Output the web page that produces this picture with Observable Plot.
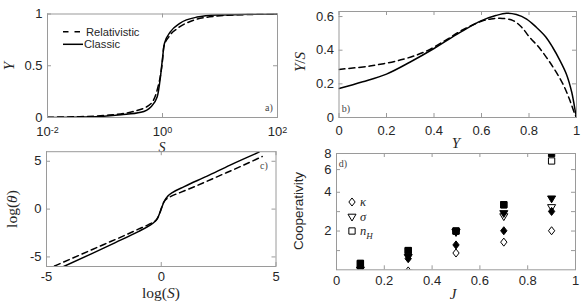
<!DOCTYPE html>
<html><head><meta charset="utf-8">
<script src="https://cdn.jsdelivr.net/npm/d3@7"></script>
<script src="https://cdn.jsdelivr.net/npm/@observablehq/plot@0.6"></script>
<style>
body{margin:0;background:#fff;}
#wrap{position:relative;width:581px;height:303px;overflow:hidden;background:#fff;}
#wrap svg{position:absolute;}
</style></head><body><div id="wrap"></div>
<script>
// ---------- Panel a: Y vs S (log axis) ----------
const aClassicS = [0.01, 0.03, 0.083, 0.19, 0.42, 0.62, 0.81, 0.92, 0.99, 1.08, 1.38, 2.0, 4.0, 8.9, 30, 100];
const aClassicY = [0.0, 0.003, 0.01, 0.026, 0.05, 0.10, 0.20, 0.39, 0.55, 0.715, 0.83, 0.91, 0.97, 0.99, 0.997, 1.0];
const aRelS = [0.01, 0.03, 0.1, 0.32, 0.62, 0.83, 0.93, 1.0, 1.05, 1.29, 1.82, 3.5, 8.9, 30, 100];
const aRelY = [0.003, 0.007, 0.02, 0.06, 0.13, 0.29, 0.42, 0.55, 0.68, 0.78, 0.86, 0.94, 0.98, 0.995, 0.999];
const aXTicks = [0.01, 1, 100];
const aXExponents = ["-2", "0", "2"];
const aYTicks = [0, 0.5, 1];

// ---------- Panel b: Y/S vs Y ----------
const bClassicY  = [0, 0.1, 0.2, 0.3, 0.4, 0.51, 0.6, 0.66, 0.705, 0.747, 0.79, 0.831, 0.87, 0.9, 0.93, 0.958, 0.98, 0.997, 1];
const bClassicYS = [0.172, 0.212, 0.258, 0.33, 0.41, 0.506, 0.576, 0.606, 0.62, 0.612, 0.585, 0.536, 0.48, 0.416, 0.34, 0.256, 0.15, 0.02, 0];
const bRelY  = [0, 0.13, 0.27, 0.37, 0.45, 0.52, 0.6, 0.64, 0.677, 0.733, 0.77, 0.803, 0.84, 0.874, 0.91, 0.944, 0.97, 0.993, 1];
const bRelYS = [0.286, 0.306, 0.346, 0.396, 0.46, 0.52, 0.572, 0.586, 0.59, 0.576, 0.535, 0.476, 0.42, 0.356, 0.28, 0.196, 0.11, 0.02, 0];
const bXTicks = [0, 0.2, 0.4, 0.6, 0.8, 1];
const bYTicks = [0, 0.2, 0.4, 0.6];

// ---------- Panel c: log(theta) vs log(S) ----------
const cClassicX = [-4.25, -3, -2, -1, -0.5, -0.3, -0.15, -0.05, 0.05, 0.15, 0.3, 0.5, 1, 2, 3, 4.26];
const cClassicY = [-6, -4.63, -3.5, -2.35, -1.7, -1.35, -0.9, -0.3, 0.35, 0.9, 1.4, 1.75, 2.35, 3.45, 4.6, 5.95];
const cRelX = [-4.65, -3.5, -2.5, -1.6, -1, -0.5, -0.2, -0.08, 0, 0.08, 0.2, 0.4, 0.84, 1.5, 2.5, 3.5, 4.4];
const cRelY = [-5.95, -4.75, -3.7, -2.76, -2.1, -1.55, -1.1, -0.5, 0.05, 0.6, 1.0, 1.3, 1.75, 2.4, 3.45, 4.5, 5.5];
const cXTicks = [-5, 0, 5];
const cYTicks = [-5, 0, 5];

// ---------- Panel d: Cooperativity vs J ----------
const dJ = [0.1, 0.3, 0.5, 0.7, 0.9];
const dKappaOpen   = [0.85, 0.98, 1.35, 1.64, 2.01];
const dKappaFilled = [1.02, 1.22, 1.56, 2.01, 2.84];
const dSigmaOpen   = [0.9, 0.95, 1.95, 2.59, 3.05];
const dSigmaFilled = [1.0, 1.25, 1.97, 2.74, 3.56];
const dNHOpen      = [1.12, 1.41, 2.0, 3.2, 7.0];
const dNHFilled    = [1.12, 1.41, 2.0, 3.2, 8.0];
const dXTicks = [0, 0.2, 0.4, 0.6, 0.8, 1];
const dYLabelTicks = [2, 4, 6, 8];
const dYTickMarks = [1.41, 2, 2.83, 4, 6, 8];
const dLegend = ["κ", "σ", "n"];

// ---------- helpers ----------
const GRAY = "#9a9a9a";
const INK = "#262626";
const SANS = "'Liberation Sans', Arial, Helvetica, sans-serif";
const SERIF = "'Liberation Serif', 'Times New Roman', serif";
const baseStyle = {fontFamily: SANS, fontSize: "13px", color: INK, background: "transparent", overflow: "visible"};
const zip = (xs, ys) => xs.map((x, i) => ({x, y: ys[i]}));

function inwardTicks(xt, yt, w, h, L = 4) {
  return [
    Plot.tickX(xt, {x: d => d, insetTop: h - L, stroke: GRAY}),
    Plot.tickX(xt, {x: d => d, insetBottom: h - L, stroke: GRAY}),
    Plot.tickY(yt, {y: d => d, insetRight: w - L, stroke: GRAY}),
    Plot.tickY(yt, {y: d => d, insetLeft: w - L, stroke: GRAY})
  ];
}
function place(svg, left, top) {
  svg.style.left = left + "px"; svg.style.top = top + "px";
  document.getElementById("wrap").appendChild(svg);
  return d3.select(svg);
}
function addText(sel, x, y, txt, {size = 15, family = SERIF, italic = true, rotate = false, anchor = "middle", fill = INK} = {}) {
  const t = sel.append("text")
    .attr("transform", `translate(${x},${y})` + (rotate ? " rotate(-90)" : ""))
    .attr("text-anchor", anchor).attr("dy", "0.35em")
    .attr("font-family", family).attr("font-size", size)
    .attr("font-style", italic ? "italic" : "normal").attr("fill", fill);
  if (txt !== null) t.text(txt);
  return t;
}
const solidStyle = {stroke: "black", strokeWidth: 1.5};
const dashStyle = {stroke: "black", strokeWidth: 1.5, strokeDasharray: "6,4"};

// ---------- Panel a ----------
{
  const W = 290, H = 150, ml = 47, mr = 13, mt = 13.5, mb = 33;
  const svg = Plot.plot({
    width: W, height: H, marginLeft: ml, marginRight: mr, marginTop: mt, marginBottom: mb, style: baseStyle,
    x: {type: "log", domain: [0.01, 100], ticks: aXTicks, tickSize: 0, tickPadding: 9.5, tickFormat: () => "10", label: null},
    y: {domain: [0, 1], ticks: aYTicks, tickSize: 0, tickPadding: 5, tickFormat: d => String(d), label: null},
    marks: [
      ...inwardTicks(aXTicks, aYTicks, W - ml - mr, H - mt - mb),
      Plot.line(zip(aRelS, aRelY), {x: "x", y: "y", curve: "monotone-x", clip: true, ...dashStyle}),
      Plot.line(zip(aClassicS, aClassicY), {x: "x", y: "y", curve: "monotone-x", clip: true, ...solidStyle}),
      Plot.frame({stroke: GRAY})
    ]
  });
  const s = place(svg, 0, 0);
  s.selectAll('g[aria-label="x-axis tick label"] text').each(function(d, i) {
    const t = d3.select(this); t.text("10");
    t.append("tspan").attr("dy", "-0.4em").attr("font-size", "9px").text(aXExponents[i]);
  });
  addText(s, 8.5, 66, "Y", {rotate: true});
  addText(s, 162, 147, "S", {size: 14});
  // legend
  s.append("line").attr("x1", 63).attr("x2", 81).attr("y1", 31.8).attr("y2", 31.8).attr("stroke", "black").attr("stroke-width", 1.5).attr("stroke-dasharray", "5.5,6");
  addText(s, 86, 31.8, "Relativistic", {size: 11.2, family: SANS, italic: false, anchor: "start"});
  s.append("line").attr("x1", 63).attr("x2", 83).attr("y1", 44.3).attr("y2", 44.3).attr("stroke", "black").attr("stroke-width", 1.5);
  addText(s, 84, 44.3, "Classic", {size: 11.2, family: SANS, italic: false, anchor: "start"});
  addText(s, 269, 107, "a)", {size: 10, italic: false, fill: "#444"});
}

// ---------- Panel b ----------
{
  const W = 291, H = 150, ml = 48.5, mr = 5, mt = 11, mb = 33;
  const svg = Plot.plot({
    width: W, height: H, marginLeft: ml, marginRight: mr, marginTop: mt, marginBottom: mb, style: baseStyle,
    x: {domain: [0, 1], ticks: bXTicks, tickSize: 0, tickPadding: 8, tickFormat: d => String(d), label: null},
    y: {domain: [0, 0.63], ticks: bYTicks, tickSize: 0, tickPadding: 5, tickFormat: d => String(d), label: null},
    marks: [
      ...inwardTicks(bXTicks, bYTicks, W - ml - mr, H - mt - mb),
      Plot.line(zip(bRelY, bRelYS), {x: "x", y: "y", curve: "catmull-rom", clip: true, ...dashStyle}),
      Plot.line(zip(bClassicY, bClassicYS), {x: "x", y: "y", curve: "catmull-rom", clip: true, ...solidStyle}),
      Plot.frame({stroke: GRAY})
    ]
  });
  const s = place(svg, 290, 0);
  const yl = addText(s, 10, 62, null, {rotate: true});
  yl.append("tspan").text("Y");
  yl.append("tspan").attr("font-style", "normal").text("/");
  yl.append("tspan").text("S");
  addText(s, 166, 143, "Y");
  addText(s, 56, 108, "b)", {size: 10, italic: false, fill: "#444"});
}

// ---------- Panel c ----------
{
  const W = 290, H = 153, ml = 46, mr = 14.5, mt = 1.2, mb = 37;
  const svg = Plot.plot({
    width: W, height: H, marginLeft: ml, marginRight: mr, marginTop: mt, marginBottom: mb, style: baseStyle,
    x: {domain: [-5, 5], ticks: cXTicks, tickSize: 0, tickPadding: 5, tickFormat: d => String(d), label: null},
    y: {domain: [-6, 6], ticks: cYTicks, tickSize: 0, tickPadding: 5, tickFormat: d => String(d), label: null},
    marks: [
      ...inwardTicks(cXTicks, cYTicks, W - ml - mr, H - mt - mb),
      Plot.line(zip(cRelX, cRelY), {x: "x", y: "y", curve: "monotone-x", clip: true, ...dashStyle}),
      Plot.line(zip(cClassicX, cClassicY), {x: "x", y: "y", curve: "monotone-x", clip: true, ...solidStyle}),
      Plot.frame({stroke: GRAY})
    ]
  });
  const s = place(svg, 0, 150);
  const yl = addText(s, 12, 59, null, {rotate: true, italic: false, size: 15.5});
  yl.append("tspan").text("log(");
  yl.append("tspan").attr("font-style", "italic").text("θ");
  yl.append("tspan").text(")");
  const xl = addText(s, 161, 143, null, {italic: false, size: 15.5});
  xl.append("tspan").text("log(");
  xl.append("tspan").attr("font-style", "italic").text("S");
  xl.append("tspan").text(")");
  addText(s, 264, 15, "c)", {size: 10, italic: false, fill: "#444"});
}

// ---------- Panel d ----------
{
  const W = 291, H = 153, ml = 46, mr = 6, mt = 3, mb = 33.7;
  const sz = (size) => Math.sqrt(size / Math.PI);
  const symDiamond = {draw(ctx, size) { const r = sz(size); ctx.moveTo(0, -1.15 * r); ctx.lineTo(0.9 * r, 0); ctx.lineTo(0, 1.15 * r); ctx.lineTo(-0.9 * r, 0); ctx.closePath(); }};
  const symTriDown = {draw(ctx, size) { const r = sz(size); ctx.moveTo(-1.15 * r, -0.8 * r); ctx.lineTo(1.15 * r, -0.8 * r); ctx.lineTo(0, 1.15 * r); ctx.closePath(); }};
  const symSquare = {draw(ctx, size) { const r = sz(size); ctx.moveTo(-0.9 * r, -0.9 * r); ctx.lineTo(0.9 * r, -0.9 * r); ctx.lineTo(0.9 * r, 0.9 * r); ctx.lineTo(-0.9 * r, 0.9 * r); ctx.closePath(); }};
  const series = [
    {vals: dKappaOpen, sym: symDiamond, filled: false},
    {vals: dSigmaOpen, sym: symTriDown, filled: false},
    {vals: dNHOpen, sym: symSquare, filled: false},
    {vals: dNHFilled, sym: symSquare, filled: true},
    {vals: dKappaFilled, sym: symDiamond, filled: true},
    {vals: dSigmaFilled, sym: symTriDown, filled: true}
  ];
  const dotMarks = series.map(sr => Plot.dot(zip(dJ, sr.vals), {
    x: "x", y: "y", r: 3.5, symbol: sr.sym, clip: true,
    fill: sr.filled ? "black" : "none", stroke: "black", strokeWidth: 1
  }));
  const svg = Plot.plot({
    width: W, height: H, marginLeft: ml, marginRight: mr, marginTop: mt, marginBottom: mb, style: baseStyle,
    x: {domain: [0, 1], ticks: dXTicks, tickSize: 0, tickPadding: 6, tickFormat: d => String(d), label: null},
    y: {type: "log", domain: [1, 8], ticks: dYLabelTicks, tickSize: 0, tickPadding: 5, tickFormat: d => String(d), label: null},
    marks: [
      ...inwardTicks(dXTicks, dYTickMarks, W - ml - mr, H - mt - mb),
      ...dotMarks,
      Plot.frame({stroke: GRAY})
    ]
  });
  const s = place(svg, 290, 150);
  addText(s, 8, 61, "Cooperativity", {rotate: true, italic: false, family: SANS, size: 13.4});
  addText(s, 163, 144, "J");
  addText(s, 53, 13, "d)", {size: 10, italic: false, fill: "#444"});
  const legSyms = [symDiamond, symTriDown, symSquare];
  const legY = [52, 67, 81];
  legSyms.forEach((sym, i) => {
    s.append("path").attr("transform", `translate(62,${legY[i]})`)
      .attr("d", d3.symbol().type(sym).size(3.5 * 3.5 * Math.PI)())
      .attr("fill", "none").attr("stroke", "black").attr("stroke-width", 1);
    const t = addText(s, 70, legY[i], dLegend[i], {anchor: "start", size: 12.5});
    if (i === 2) t.append("tspan").attr("dy", "0.35em").attr("font-size", 9).text("H");
  });
}
</script></body></html>
